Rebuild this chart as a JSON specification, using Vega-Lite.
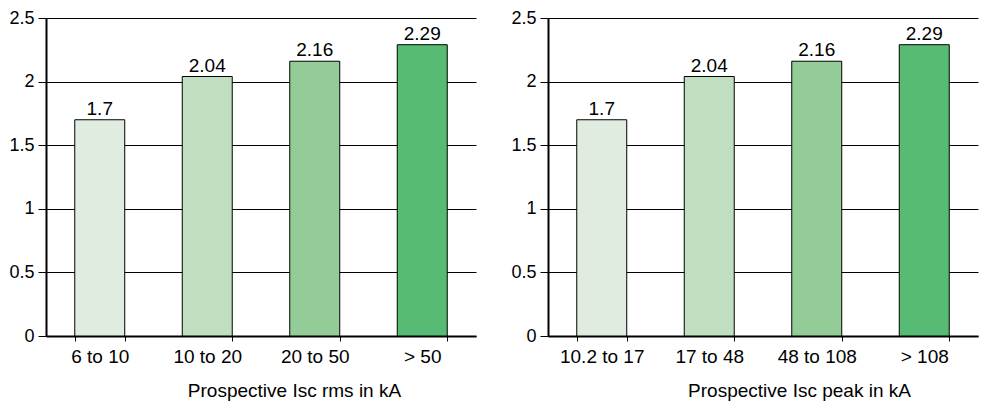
{
  "$schema": "https://vega.github.io/schema/vega-lite/v6.json",
  "padding": {"left": 8, "top": 9, "right": 5, "bottom": 5},
  "spacing": 34,
  "config": {
    "view": {"stroke": null},
    "font": "Liberation Sans",
    "axisY": {
      "domainColor": "black", "domainWidth": 2,
      "tickColor": "black", "tickSize": 8, "tickWidth": 1,
      "grid": true, "gridColor": "black", "gridWidth": 1, "gridOpacity": 1,
      "labelFontSize": 18, "labelColor": "black", "labelPadding": 4
    },
    "axisX": {
      "domainColor": "black", "domainWidth": 2,
      "tickColor": "black", "tickSize": 5, "tickWidth": 1, "tickBand": "extent",
      "grid": false, "labelAngle": 0, "labelFontSize": 19, "labelColor": "black", "labelPadding": 6,
      "titleFontSize": 19, "titleFontWeight": "normal", "titleColor": "black", "titlePadding": 15
    }
  },
  "datasets": {
    "rms": [
      {"range": "6 to 10", "value": 1.7},
      {"range": "10 to 20", "value": 2.04},
      {"range": "20 to 50", "value": 2.16},
      {"range": "> 50", "value": 2.29}
    ],
    "peak": [
      {"range": "10.2 to 17", "value": 1.7},
      {"range": "17 to 48", "value": 2.04},
      {"range": "48 to 108", "value": 2.16},
      {"range": "> 108", "value": 2.29}
    ]
  },
  "hconcat": [
    {
      "width": 430, "height": 318,
      "data": {"name": "rms"},
      "encoding": {
        "x": {"field": "range", "type": "nominal", "sort": null,
              "scale": {"paddingInner": 0.535, "paddingOuter": 0.2675},
              "axis": {"title": "Prospective Isc rms in kA", "titleX": 248}},
        "y": {"field": "value", "type": "quantitative", "scale": {"domain": [0, 2.5], "nice": false},
              "axis": {"values": [0, 0.5, 1, 1.5, 2, 2.5], "format": "~g", "title": null}}
      },
      "layer": [
        {"mark": {"type": "bar", "stroke": "black", "strokeWidth": 1},
         "encoding": {"color": {"field": "range", "type": "nominal", "legend": null,
            "scale": {"domain": ["6 to 10", "10 to 20", "20 to 50", "> 50"],
                      "range": ["#e1ece1", "#c0dfc0", "#93cc97", "#58bb73"]}}}},
        {"mark": {"type": "text", "dy": -5, "baseline": "alphabetic", "fontSize": 19, "color": "black"},
         "encoding": {"text": {"field": "value", "type": "quantitative", "format": "~g"}}}
      ]
    },
    {
      "width": 430, "height": 318,
      "data": {"name": "peak"},
      "encoding": {
        "x": {"field": "range", "type": "nominal", "sort": null,
              "scale": {"paddingInner": 0.535, "paddingOuter": 0.2675},
              "axis": {"title": "Prospective Isc peak in kA", "titleX": 251}},
        "y": {"field": "value", "type": "quantitative", "scale": {"domain": [0, 2.5], "nice": false},
              "axis": {"values": [0, 0.5, 1, 1.5, 2, 2.5], "format": "~g", "title": null}}
      },
      "layer": [
        {"mark": {"type": "bar", "stroke": "black", "strokeWidth": 1},
         "encoding": {"color": {"field": "range", "type": "nominal", "legend": null,
            "scale": {"domain": ["10.2 to 17", "17 to 48", "48 to 108", "> 108"],
                      "range": ["#e1ece1", "#c0dfc0", "#93cc97", "#58bb73"]}}}},
        {"mark": {"type": "text", "dy": -5, "baseline": "alphabetic", "fontSize": 19, "color": "black"},
         "encoding": {"text": {"field": "value", "type": "quantitative", "format": "~g"}}}
      ]
    }
  ],
  "resolve": {"scale": {"color": "independent"}}
}
